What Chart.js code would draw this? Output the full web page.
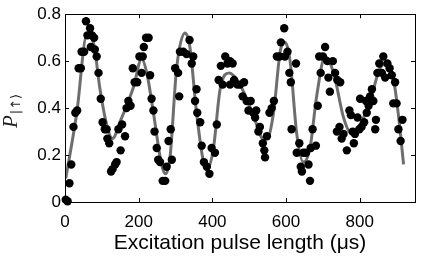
<!DOCTYPE html>
<html>
<head>
<meta charset="utf-8">
<script src="https://cdn.jsdelivr.net/npm/chart.js@4/dist/chart.umd.min.js"></script>
<style>
html,body{margin:0;padding:0;background:#fff;}
#wrap{width:436px;height:257px;}
</style>
</head>
<body>
<div id="wrap"><canvas id="c" width="436" height="257"></canvas></div>
<script>
// Measured points
const pulseUs = [2,7,12,17,23,28,33,37,43,45,52,57,61,68,73,79,70,81,86,91,97,102,108,113,115,120,125,129,136,140,145,151,155,163,167,172,178,184,189,196,202,208,211,214,220,227,231,235,240,243,249,253,258,265,272,276,281,287,290,299,307,310,312,321,330,338,344,348,357,353,359,367,371,377,385,392,398,407,412,417,423,428,435,441,448,455,448,459,468,475,482,486,493,498,504,511,516,519,525,529,537,541,543,548,555,561,567,575,582,586,595,597,604,609,613,615,627,629,636,640,643,647,654,661,665,667,672,681,686,690,694,700,706,712,715,719,727,733,739,747,738,745,751,756,765,772,776,781,784,787,794,801,799,805,812,819,824,828,817,833,837,844,842,848,853,860,864,869,875,881,887,896,891,900,905,911,916];
const probUp = [0.01,0.003,0.08,0.16,0.32,0.38,0.39,0.57,0.57,0.64,0.64,0.77,0.71,0.74,0.71,0.70,0.66,0.65,0.62,0.55,0.44,0.34,0.31,0.31,0.27,0.25,0.13,0.14,0.16,0.17,0.31,0.22,0.33,0.28,0.40,0.43,0.41,0.57,0.51,0.51,0.62,0.55,0.62,0.66,0.70,0.70,0.54,0.44,0.39,0.30,0.23,0.18,0.17,0.09,0.09,0.15,0.26,0.31,0.18,0.57,0.55,0.45,0.64,0.64,0.63,0.69,0.59,0.62,0.48,0.43,0.38,0.34,0.24,0.17,0.15,0.12,0.23,0.21,0.33,0.52,0.58,0.50,0.62,0.59,0.60,0.59,0.50,0.52,0.50,0.50,0.45,0.51,0.43,0.39,0.43,0.38,0.36,0.39,0.30,0.32,0.25,0.22,0.19,0.28,0.38,0.40,0.43,0.62,0.62,0.68,0.74,0.62,0.64,0.55,0.51,0.31,0.59,0.21,0.25,0.15,0.13,0.21,0.21,0.16,0.09,0.23,0.31,0.24,0.41,0.62,0.55,0.62,0.66,0.60,0.53,0.47,0.60,0.55,0.52,0.51,0.30,0.32,0.27,0.29,0.22,0.39,0.37,0.30,0.25,0.29,0.36,0.44,0.31,0.32,0.34,0.38,0.41,0.45,0.43,0.48,0.43,0.35,0.31,0.55,0.59,0.55,0.62,0.53,0.59,0.57,0.54,0.51,0.42,0.42,0.31,0.26,0.35];

// Fit curve
const fitX = [2,32,59,77,95,113,129,149,186,208,222,240,262,273,285,303,326,339,357,376,386,403,421,446,475,511,538,548,566,584,597,611,629,647,665,683,706,729,756,778,801,828,855,873,891,905,919];
const fitY = [0.10,0.38,0.71,0.68,0.48,0.33,0.27,0.34,0.49,0.61,0.55,0.38,0.16,0.12,0.19,0.57,0.72,0.66,0.38,0.17,0.14,0.23,0.48,0.55,0.50,0.37,0.27,0.27,0.38,0.64,0.68,0.60,0.29,0.17,0.23,0.45,0.62,0.55,0.36,0.29,0.33,0.43,0.57,0.59,0.53,0.37,0.16];

const xTicks = [0,200,400,600,800];
const yTicks = [0,0.2,0.4,0.6,0.8];
const yTickLabels = ["0","0.2","0.4","0.6","0.8"];
const xTitle = "Excitation pulse length (μs)";
const yTitleMain = "P";
const yTitleSub = "|↑⟩";

const pts = pulseUs.map((x,i)=>({x:x,y:probUp[i]}));
const fit = fitX.map((x,i)=>({x:x,y:fitY[i]}));

const frame = {
  id:'frame',
  afterDatasetsDraw(chart){
    const {ctx, chartArea:a, scales} = chart;
    ctx.save();
    ctx.strokeStyle='#000'; ctx.lineWidth=1;
    ctx.beginPath();
    const L=4;
    xTicks.forEach(v=>{
      const px=Math.round(scales.x.getPixelForValue(v))+0.5;
      ctx.moveTo(px,a.bottom); ctx.lineTo(px,a.bottom-L);
      ctx.moveTo(px,a.top); ctx.lineTo(px,a.top+L);
    });
    yTicks.forEach(v=>{
      const py=Math.round(scales.y.getPixelForValue(v))+0.5;
      ctx.moveTo(a.left,py); ctx.lineTo(a.left+L,py);
      ctx.moveTo(a.right,py); ctx.lineTo(a.right-L,py);
    });
    ctx.stroke();
    ctx.strokeRect(Math.round(a.left)+0.5,Math.round(a.top)+0.5,Math.round(a.right-a.left),Math.round(a.bottom-a.top));
    ctx.restore();
  },
  afterDraw(chart){
    const ctx=chart.ctx;
    ctx.save();
    ctx.translate(17,128);
    ctx.rotate(-Math.PI/2);
    ctx.fillStyle='#222';
    ctx.textBaseline='alphabetic';
    ctx.textAlign='left';
    ctx.font='italic 21px "Liberation Serif", "DejaVu Serif", serif';
    ctx.fillText(yTitleMain,0,0);
    const w=ctx.measureText(yTitleMain).width;
    ctx.font='13px "DejaVu Sans", sans-serif';
    ctx.fillText(yTitleSub,w+1,3);
    ctx.restore();
  }
};

new Chart(document.getElementById('c'),{
  type:'scatter',
  data:{datasets:[
    {data:pts, pointRadius:4.2, pointHoverRadius:4.2, backgroundColor:'#000', borderColor:'#000', borderWidth:0, clip:false, order:1},
    {type:'line', data:fit, showLine:true, borderColor:'#6e6e6e', borderWidth:3, pointRadius:0, tension:0.4, cubicInterpolationMode:'monotone', fill:false, order:2}
  ]},
  plugins:[frame],
  options:{
    responsive:false, animation:false, devicePixelRatio:1,
    layout:{padding:{left:0,top:11,right:21,bottom:0}},
    plugins:{legend:{display:false}, tooltip:{enabled:false}},
    scales:{
      x:{type:'linear', min:0, max:950,
        afterBuildTicks(s){ s.ticks = xTicks.map(v=>({value:v})); },
        afterFit(s){ s.height = 55; },
        grid:{display:false, drawTicks:false},
        border:{display:false},
        ticks:{color:'#000', padding:10, maxRotation:0, font:{family:'"Liberation Sans", Arial, sans-serif', size:17}, callback:(v)=>String(v)},
        title:{display:true, text:xTitle, color:'#000', padding:{top:0,bottom:1}, font:{family:'"Liberation Sans", Arial, sans-serif', size:21}}
      },
      y:{type:'linear', min:0, max:0.8,
        afterBuildTicks(s){ s.ticks = yTicks.map(v=>({value:v})); },
        afterFit(s){ s.width = 65; },
        grid:{display:false, drawTicks:false},
        border:{display:false},
        ticks:{color:'#000', padding:4, font:{family:'"Liberation Sans", Arial, sans-serif', size:17},
          callback:(v)=>{ const i=yTicks.findIndex(t=>Math.abs(t-v)<1e-9); return i>=0?yTickLabels[i]:''; }}
      }
    }
  }
});
</script>
</body>
</html>
